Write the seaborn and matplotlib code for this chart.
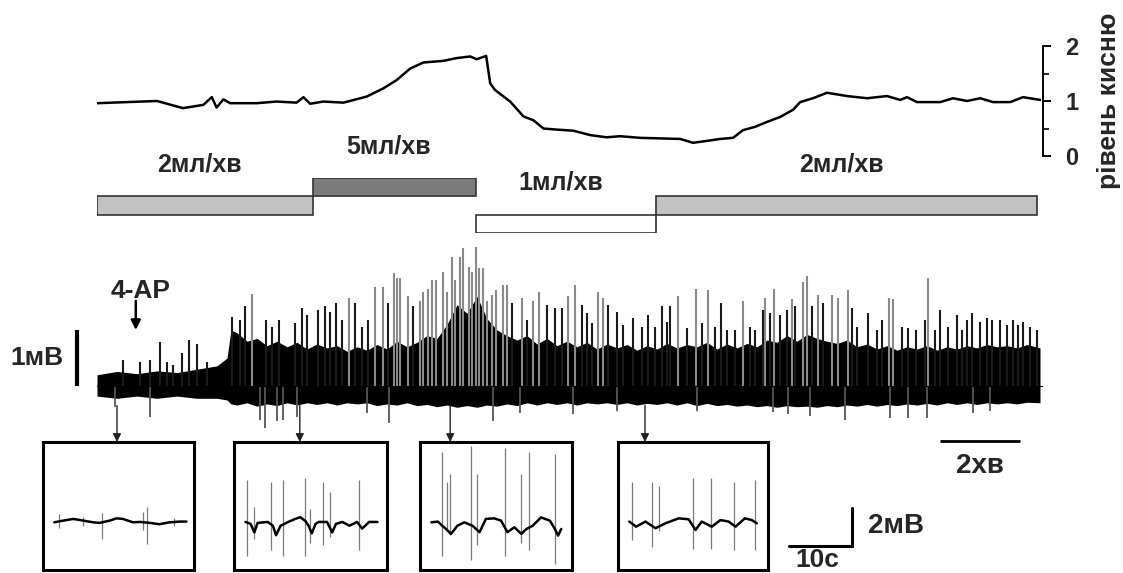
import numpy as np
import pandas as pd
import matplotlib
matplotlib.use("Agg")
import matplotlib.pyplot as plt
import matplotlib.transforms as mtransforms
import seaborn as sns

# ---------------- data ----------------
# Tissue oxygen level (relative units) vs. time (min)
o2_t = [0, 1.5, 2.15, 2.66, 2.87, 2.99, 3.16, 3.33, 3.99, 4.49, 4.99, 5.16, 5.33, 5.66,
        6.16, 6.74, 7.16, 7.49, 7.83, 8.16, 8.66, 8.99, 9.33, 9.49, 9.73, 9.83, 9.95,
        10.33, 10.66, 10.91, 11.16, 11.49, 11.91, 12.33, 12.74, 13.08, 13.58, 14.08,
        14.58, 14.9, 15.2, 15.58, 15.9, 16.15, 16.45, 16.75, 17.08, 17.4, 17.58, 17.9,
        18.25, 18.75, 19.25, 19.75, 20.08, 20.25, 20.5, 21.08, 21.4, 21.75, 22.08, 22.4,
        22.83, 23.15, 23.575]
o2_level = [0.96, 1.0, 0.87, 0.93, 1.07, 0.88, 1.03, 0.96, 0.96, 0.99, 0.97, 1.07, 0.95, 0.99,
            0.97, 1.08, 1.23, 1.38, 1.59, 1.70, 1.73, 1.78, 1.81, 1.76, 1.82, 1.32, 1.20,
            0.99, 0.72, 0.65, 0.50, 0.48, 0.46, 0.38, 0.34, 0.36, 0.33, 0.32,
            0.31, 0.24, 0.27, 0.31, 0.33, 0.47, 0.53, 0.62, 0.71, 0.84, 0.98, 1.05,
            1.15, 1.09, 1.05, 1.09, 1.02, 1.07, 0.98, 0.98, 1.05, 1.0, 1.05, 0.98,
            0.98, 1.07, 1.02]

# Perfusion rate periods (min) and rates (ml/min)
flow_start = [0, 5.4, 9.475, 13.975]
flow_end = [5.4, 9.475, 13.975, 23.5]
flow_rate = [2, 5, 1, 2]
flow_label = ["2мл/хв", "5мл/хв", "1мл/хв", "2мл/хв"]

# Field potential: envelope of the dense activity (mV) vs. time (min)
body_t = [0, 0.5, 1, 1.5, 2, 2.5, 3, 3.25, 3.35, 3.5, 3.75, 4, 4.25, 4.5, 4.75, 5, 5.25,
          5.5, 5.75, 6, 6.25, 6.5, 6.75, 7, 7.25, 7.5, 7.75, 8, 8.25, 8.5, 8.75, 9, 9.25,
          9.5, 9.75, 10, 10.25, 10.5, 10.75, 11, 11.25, 11.5, 11.75, 12, 12.25, 12.5,
          12.75, 13, 13.25, 13.5, 13.75, 14, 14.25, 14.5, 14.75, 15, 15.25, 15.5, 15.75,
          16, 16.25, 16.5, 16.75, 17, 17.25, 17.5, 17.75, 18, 18.25, 18.5, 18.75, 19,
          19.25, 19.5, 19.75, 20, 20.25, 20.5, 20.75, 21, 21.25, 21.5, 21.75, 22, 22.25,
          22.5, 22.75, 23, 23.25, 23.575]
body_hi = [0.2, 0.26, 0.22, 0.27, 0.24, 0.3, 0.36, 0.5, 1.0, 0.95, 0.8, 0.85, 0.72, 0.8,
           0.7, 0.78, 0.66, 0.75, 0.68, 0.72, 0.62, 0.7, 0.64, 0.74, 0.66, 0.8, 0.7, 0.78,
           0.9, 0.85, 1.1, 1.45, 1.3, 1.6, 1.2, 1.0, 0.9, 0.82, 0.9, 0.75, 0.85, 0.72, 0.8,
           0.7, 0.78, 0.66, 0.75, 0.68, 0.74, 0.64, 0.72, 0.66, 0.76, 0.68, 0.74, 0.7, 0.78,
           0.66, 0.75, 0.68, 0.76, 0.7, 0.82, 0.78, 0.9, 0.8, 0.92, 0.85, 0.8, 0.76, 0.82,
           0.7, 0.75, 0.66, 0.72, 0.64, 0.7, 0.66, 0.72, 0.64, 0.7, 0.66, 0.72, 0.68, 0.74,
           0.7, 0.72, 0.68, 0.74, 0.68]
body_lo = [-0.18, -0.22, -0.18, -0.22, -0.18, -0.22, -0.22, -0.25, -0.32, -0.34, -0.3,
           -0.36, -0.32, -0.35, -0.3, -0.34, -0.3, -0.33, -0.3, -0.34, -0.3, -0.32, -0.3,
           -0.35, -0.32, -0.34, -0.3, -0.35, -0.33, -0.37, -0.34, -0.38, -0.35, -0.38,
           -0.34, -0.36, -0.32, -0.35, -0.3, -0.34, -0.3, -0.33, -0.3, -0.34, -0.3, -0.32,
           -0.3, -0.33, -0.3, -0.34, -0.31, -0.33, -0.3, -0.34, -0.3, -0.35, -0.31, -0.35,
           -0.33, -0.36, -0.34, -0.37, -0.35, -0.38, -0.35, -0.37, -0.36, -0.38, -0.35,
           -0.37, -0.34, -0.36, -0.33, -0.36, -0.33, -0.35, -0.32, -0.34, -0.31, -0.34,
           -0.3, -0.33, -0.3, -0.33, -0.3, -0.32, -0.3, -0.32, -0.29, -0.3]

# Individual upward discharges (min, mV)
spike_t = [0.66, 1.07, 1.33, 1.57, 1.74, 1.91, 2.12, 2.31, 2.51, 2.74, 3.37, 3.58, 3.70,
           3.88, 4.22, 4.37, 4.56, 4.95, 5.12, 5.24, 5.53, 5.70, 5.83, 5.97, 6.12, 6.31,
           6.45, 6.62, 6.78, 6.95, 7.16, 7.28, 7.43, 7.51, 7.58, 7.78, 7.91, 8.08, 8.14,
           8.28, 8.38, 8.47, 8.66, 8.74, 8.88, 8.95, 9.08, 9.16, 9.30, 9.37, 9.48, 9.56,
           9.64, 9.74, 9.87, 9.98, 10.14, 10.24, 10.37, 10.62, 10.74, 10.91, 11.06, 11.24,
           11.45, 11.62, 11.78, 11.95, 12.12, 12.24, 12.37, 12.52, 12.66, 12.78, 12.99,
           13.16, 13.41, 13.62, 13.78, 13.95, 14.12, 14.24, 14.33, 14.53, 14.74, 14.97,
           15.12, 15.28, 15.45, 15.59, 15.74, 15.95, 16.14, 16.33, 16.45, 16.64, 16.70,
           16.83, 16.93, 17.08, 17.24, 17.37, 17.45, 17.64, 17.74, 17.87, 18.03, 18.16,
           18.37, 18.53, 18.78, 18.87, 18.99, 19.28, 19.49, 19.62, 19.80, 19.91, 20.12,
           20.28, 20.48, 20.70, 20.78, 20.95, 21.08, 21.28, 21.49, 21.62, 21.74, 21.87,
           22.08, 22.24, 22.37, 22.58, 22.74, 22.91, 23.03, 23.16, 23.33, 23.49]
spike_amp = [0.46, 0.43, 0.46, 0.79, 0.43, 0.38, 0.59, 0.82, 0.75, 0.43, 1.24, 1.18, 1.42,
             1.65, 1.18, 1.06, 1.18, 1.12, 1.39, 1.27, 1.36, 1.42, 1.33, 1.48, 1.18, 1.57,
             1.48, 1.06, 1.18, 1.77, 1.77, 1.48, 2.01, 1.92, 1.92, 1.60, 1.42, 1.51, 1.68,
             1.74, 1.89, 1.89, 2.04, 1.68, 2.31, 1.89, 2.31, 2.46, 2.13, 2.04, 2.49, 2.10,
             2.10, 1.51, 1.63, 1.71, 1.80, 1.80, 1.48, 1.57, 1.18, 1.51, 1.68, 1.45,
             1.39, 1.39, 1.60, 1.80, 1.45, 1.30, 1.12, 1.68, 1.57, 1.45, 1.33,
             1.09, 1.21, 1.06, 1.27, 1.06, 1.42, 1.15, 1.42, 1.60, 1.03, 1.73,
             1.12, 1.71, 1.06, 1.48, 1.00, 1.00, 1.51, 1.06, 1.00, 1.36, 1.57,
             1.30, 1.73, 1.27, 1.36, 1.55, 1.42, 1.86, 1.96, 1.42, 1.63, 1.48,
             1.63, 1.57, 1.71, 1.39, 1.06, 1.30, 1.00, 1.18, 1.57, 1.55, 1.06,
             1.03, 1.00, 1.18, 1.93, 1.00, 1.36, 1.06, 1.27, 1.00, 1.18, 1.30,
             1.15, 1.21, 1.18, 1.18, 1.09, 1.18, 1.09, 1.15, 1.06, 1.00]

# Downward deflections (min, mV)
down_t = [0.45, 1.33, 4.07, 4.2, 4.49, 4.66, 4.99, 6.74, 7.3, 9.9, 10.58, 11.9, 12.99,
          14.99, 16.9, 17.28, 17.83, 18.7, 19.83, 20.28, 20.74, 21.9, 22.33]
down_amp = [-0.37, -0.55, -0.61, -0.75, -0.63, -0.61, -0.55, -0.48, -0.66, -0.62, -0.48,
            -0.5, -0.45, -0.45, -0.46, -0.5, -0.54, -0.6, -0.57, -0.57, -0.57, -0.48, -0.45]

# Moments (min) shown on an expanded time base below the record
inset_at = [0.5, 5.07, 8.83, 13.7]

# Expanded fragments: baseline (s, mV) and discharges (s, peak mV, trough mV)
ins1_bt = [0, 1.43, 3.02, 4.6, 6.2, 7.2, 8.8, 9.9, 10.9, 12.5, 13.6, 15.2, 16.7, 18.3, 19.9, 21.0]
ins1_bv = [-0.02, 0.07, 0.16, 0.07, -0.02, -0.05, 0.07, 0.19, 0.16, -0.02, 0.0, -0.05, -0.12, -0.02, 0.02, 0.02]
ins1_st = [0.7, 4.6, 7.5, 14.1, 14.7, 19.0]
ins1_up = [0.4, 0.25, 0.45, 0.5, 0.8, 0.2]
ins1_dn = [-0.3, -0.2, -0.9, -0.4, -1.15, -0.2]

ins2_bt = [0, 0.8, 1.4, 1.9, 3.5, 4.3, 4.8, 5.5, 6.7, 7.8, 8.6, 9.4, 9.9, 10.4, 11.0, 11.5,
           12.8, 13.6, 14.2, 15.2, 16.3, 17.5, 18.3, 19.4, 20.7]
ins2_bv = [0, -0.1, -0.55, -0.05, 0.0, -0.2, -0.7, -0.2, 0.0, 0.16, 0.25, 0.05, -0.2, -0.6,
           -0.1, 0.0, 0.0, -0.55, -0.1, 0.0, -0.2, 0.0, -0.35, 0.0, 0.0]
ins2_st = [0.3, 1.4, 4.0, 5.9, 9.3, 10.1, 12.2, 13.3, 17.8]
ins2_up = [2.2, 0.8, 2.1, 2.2, 2.3, 0.7, 2.1, 1.6, 2.2]
ins2_dn = [-1.8, -0.9, -1.5, -1.8, -1.8, -1.1, -1.2, -0.8, -1.5]

ins3_bt = [0, 1.0, 2.3, 3.1, 4.1, 5.2, 6.5, 7.6, 8.6, 9.9, 11.0, 12.0, 13.1, 14.2, 15.0,
           16.0, 17.3, 18.7, 19.5, 20.0, 20.5]
ins3_bv = [-0.02, 0.02, -0.37, -0.63, -0.2, -0.02, -0.2, -0.54, 0.16, 0.19, 0.07, -0.54,
           -0.28, -0.63, -0.37, -0.2, 0.24, 0.07, -0.37, -0.72, -0.37]
ins3_st = [1.7, 2.5, 2.9, 6.2, 7.2, 11.6, 14.1, 15.4, 19.5]
ins3_up = [3.7, 2.1, 2.5, 4.0, 2.5, 3.9, 2.5, 3.7, 3.6]
ins3_dn = [-1.8, -0.4, -0.7, -2.0, -1.2, -1.8, -1.1, -1.5, -2.2]

ins4_bt = [0, 1.1, 2.6, 4.2, 5.8, 7.9, 9.5, 10.6, 11.6, 13.2, 14.6, 15.9, 17.0, 18.5, 19.6, 20.4]
ins4_bv = [0.02, -0.25, 0.02, -0.33, -0.07, 0.19, 0.14, -0.42, 0.02, -0.25, 0.1, 0.02,
           -0.25, 0.19, 0.1, -0.07]
ins4_st = [0.4, 3.7, 4.8, 10.2, 13.0, 16.7, 20.1]
ins4_up = [2.1, 2.1, 1.9, 2.3, 2.3, 2.1, 2.2]
ins4_dn = [-0.95, -1.3, -0.5, -1.4, -1.4, -1.5, -1.5]

# ---------------- style ----------------
sns.set_theme(style="white")
plt.rcParams["font.family"] = ["Liberation Sans", "DejaVu Sans"]
plt.rcParams["font.weight"] = "bold"
plt.rcParams["axes.labelweight"] = "bold"

W, H = 1123, 573


def rect(x0, y0, x1, y1):
    return [x0 / W, 1 - y1 / H, (x1 - x0) / W, (y1 - y0) / H]


fig = plt.figure(figsize=(W / 100, H / 100), dpi=100)
fig.patch.set_facecolor("white")
T_LIM = (0, 23.65)
FS = 18

# ---------------- oxygen trace ----------------
ax_o2 = fig.add_axes(rect(97, 46, 1043, 156))
o2_df = pd.DataFrame({"t": o2_t, "o2": o2_level})
sns.lineplot(data=o2_df, x="t", y="o2", ax=ax_o2, color="black", lw=1.8)
ax_o2.set_xlim(*T_LIM)
ax_o2.set_ylim(0, 2)
ax_o2.set_facecolor("none")
for s in ["left", "top", "bottom"]:
    ax_o2.spines[s].set_visible(False)
ax_o2.spines["right"].set_visible(True)
ax_o2.spines["right"].set_color("black")
ax_o2.spines["right"].set_linewidth(1.4)
ax_o2.set_xticks([])
ax_o2.set_yticks([0, 1, 2])
ax_o2.set_yticks([0.5, 1.5], minor=True)
ax_o2.yaxis.tick_right()
ax_o2.tick_params(axis="y", which="major", direction="out", length=6, width=1.4,
                  color="black", labelsize=17, pad=10, left=False, right=True)
ax_o2.tick_params(axis="y", which="minor", direction="out", length=4, width=1.2,
                  color="black", left=False, right=True)
for lab in ax_o2.get_yticklabels():
    lab.set_fontweight("bold")
ax_o2.yaxis.set_label_position("right")
ax_o2.set_xlabel("")
ax_o2.set_ylabel("рівень кисню", fontsize=19, fontweight="bold", labelpad=13)

# ---------------- perfusion rate bars ----------------
ax_fl = fig.add_axes(rect(97, 178, 1043, 233))
level_of = {1: 0, 2: 1, 5: 2}
color_of = {1: "white", 2: "#c2c2c2", 5: "#7b7b7b"}
for st, en, r, lab in zip(flow_start, flow_end, flow_rate, flow_label):
    lv = level_of[r]
    ax_fl.bar(st, 1, width=en - st, bottom=lv, align="edge", color=color_of[r],
              edgecolor="#333333", linewidth=1.2)
    ax_fl.annotate(lab, xy=((st + en) / 2, lv + 1), xytext=(-4, 23),
                   textcoords="offset points", ha="center", va="center",
                   fontsize=FS, fontweight="bold", annotation_clip=False)
ax_fl.set_xlim(*T_LIM)
ax_fl.set_ylim(0, 3)
ax_fl.axis("off")

# ---------------- field potential record ----------------
ax_lfp = fig.add_axes(rect(97, 240, 1043, 445))
ax_lfp.set_xlim(*T_LIM)
ax_lfp.set_ylim((386 - 445) / 56, (386 - 240) / 56)
ax_lfp.axis("off")
spike_t_arr = np.asarray(spike_t)
spike_amp_arr = np.asarray(spike_amp)
tall = spike_amp_arr >= 1.5
ax_lfp.vlines(down_t, down_amp, 0, color="#555555", lw=1.3)
ax_lfp.vlines(spike_t_arr[tall], 0, spike_amp_arr[tall], color="#8a8a8a", lw=1.5)
ax_lfp.vlines(spike_t_arr[~tall], 0, spike_amp_arr[~tall], color="#1a1a1a", lw=1.5)
ax_lfp.fill_between(body_t, body_lo, body_hi, color="black", lw=0)
ax_lfp.plot([body_t[0], body_t[-1] + 0.1], [0, 0], color="black", lw=0.8)

# 1 mV calibration
ax_lfp.plot([-0.5, -0.5], [0, 1], color="black", lw=3, clip_on=False,
            solid_capstyle="butt")
ax_lfp.text(-0.85, 0.5, "1мВ", ha="right", va="center", fontsize=19, fontweight="bold")

# 4-AP application
ax_lfp.text(1.1, 1.7, "4-AP", ha="center", va="center", fontsize=19,
            fontweight="bold")
ax_lfp.annotate("", xy=(0.97, 1.0), xytext=(0.97, 1.52),
                arrowprops=dict(arrowstyle="-|>", color="black", lw=1.8,
                                mutation_scale=14, shrinkA=0, shrinkB=0))

# 2 min time bar
ax_lfp.plot([21.075, 23.075], [-0.98, -0.98], color="black", lw=2, clip_on=False,
            solid_capstyle="butt")
ax_lfp.text(22.075, -1.42, "2хв", ha="center", va="center", fontsize=20,
            fontweight="bold", clip_on=False)

# ---------------- expanded fragments ----------------
boxes = [(43, 442, 194, 570), (234, 442, 387, 570), (420, 442, 572, 570), (618, 442, 768, 570)]
insets = [
    (ins1_bt, ins1_bv, ins1_st, ins1_up, ins1_dn),
    (ins2_bt, ins2_bv, ins2_st, ins2_up, ins2_dn),
    (ins3_bt, ins3_bv, ins3_st, ins3_up, ins3_dn),
    (ins4_bt, ins4_bv, ins4_st, ins4_up, ins4_dn),
]
IN_X = (-1.8, 22.2)
IN_Y = (-2.53, 4.21)
for box, (bt, bv, st, up, dn), t_at in zip(boxes, insets, inset_at):
    ax = fig.add_axes(rect(*box))
    ax.vlines(st, dn, up, color="#7a7a7a", lw=0.9)
    sns.lineplot(x=bt, y=bv, ax=ax, color="black", lw=1.8)
    ax.set_xlim(*IN_X)
    ax.set_ylim(*IN_Y)
    ax.set_xticks([])
    ax.set_yticks([])
    ax.set(xlabel="", ylabel="")
    for s in ax.spines.values():
        s.set_visible(True)
        s.set_color("black")
        s.set_linewidth(2.2)
    trans = mtransforms.blended_transform_factory(ax_lfp.transData, ax.transAxes)
    ax_lfp.annotate("", xy=(t_at, 1.0), xycoords=trans, xytext=(t_at, -0.35),
                    textcoords="data",
                    arrowprops=dict(arrowstyle="-|>", color="#222222", lw=1.0,
                                    mutation_scale=12, shrinkA=0, shrinkB=0),
                    annotation_clip=False)

# calibration for expanded fragments (10 s, 2 mV)
ax_sb = fig.add_axes(rect(780, 442, 931, 570))
ax_sb.set_xlim(0, 24)
ax_sb.set_ylim(*IN_Y)
ax_sb.axis("off")
ax_sb.plot([1.43, 11.43, 11.43], [-1.24, -1.24, 0.76], color="black", lw=2.2,
           solid_joinstyle="miter")
ax_sb.text(14.0, -0.2, "2мВ", ha="left", va="center", fontsize=20, fontweight="bold")
ax_sb.text(6.0, -1.98, "10с", ha="center", va="center", fontsize=19, fontweight="bold",
           clip_on=False)

fig.savefig("out.png", dpi=100, facecolor="white")
